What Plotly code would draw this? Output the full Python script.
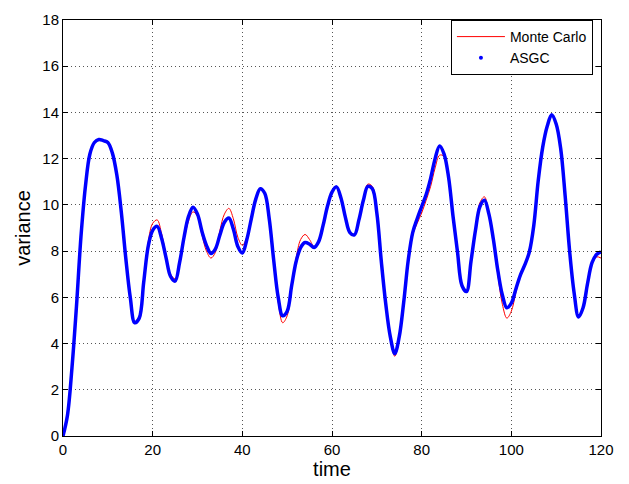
import plotly.graph_objects as go

# Sample times (one sample per time unit)
time = list(range(0, 121))

# Variance estimated with the adaptive sparse grid collocation method
asgc = [
    0.0, 0.9, 2.95, 5.6, 8.6, 10.8, 12.2, 12.7, 12.83, 12.78,
    12.7, 12.25, 11.3, 9.7, 7.7, 6.0, 4.9, 5.1, 6.65, 8.2,
    8.9, 9.07, 8.55, 7.7, 6.9, 6.7, 7.5, 8.6, 9.5, 9.9,
    9.6, 8.85, 8.25, 7.9, 8.1, 8.7, 9.25, 9.43, 8.95, 8.2,
    7.92, 8.5, 9.4, 10.25, 10.7, 10.5, 9.4, 7.6, 6.0, 5.2,
    5.4, 6.5, 7.55, 8.15, 8.37, 8.3, 8.16, 8.4, 9.1, 9.95,
    10.55, 10.78, 10.3, 9.45, 8.8, 8.7, 9.35, 10.2, 10.8, 10.7,
    9.65, 7.55, 5.7, 4.3, 3.56, 4.3, 5.8, 7.6, 8.8, 9.4,
    9.93, 10.45, 11.15, 12.0, 12.55, 12.2, 11.2, 9.5, 7.95, 6.5,
    6.25, 7.55, 8.9, 9.93, 10.2, 9.6, 8.5, 7.15, 6.1, 5.55,
    5.75, 6.35, 6.95, 7.4, 7.95, 9.1, 11.05, 12.5, 13.4, 13.9,
    13.5, 12.45, 10.4, 8.0, 6.2, 5.15, 5.55, 6.6, 7.5, 7.85,
    7.97,
]

# Reference variance from Monte Carlo sampling
monte_carlo = [
    0.0, 0.9, 2.95, 5.6, 8.6, 10.8, 12.2, 12.7, 12.83, 12.75,
    12.65, 12.15, 11.2, 9.7, 7.7, 6.0, 4.95, 5.2, 6.8, 8.4,
    9.2, 9.35, 8.75, 7.8, 7.0, 6.8, 7.5, 8.5, 9.3, 9.7,
    9.5, 8.7, 8.0, 7.7, 7.95, 8.9, 9.6, 9.85, 9.4, 8.6,
    8.25, 8.6, 9.4, 10.25, 10.7, 10.5, 9.4, 7.5, 5.8, 4.9,
    5.2, 6.5, 7.7, 8.5, 8.72, 8.5, 8.2, 8.4, 9.1, 9.95,
    10.55, 10.78, 10.3, 9.45, 8.8, 8.7, 9.35, 10.2, 10.9, 10.8,
    9.65, 7.55, 5.7, 4.2, 3.45, 4.2, 5.8, 7.6, 8.7, 9.2,
    9.65, 10.2, 10.8, 11.6, 12.15, 12.1, 11.1, 9.5, 7.95, 6.5,
    6.25, 7.55, 8.9, 10.1, 10.35, 9.6, 8.4, 6.95, 5.7, 5.1,
    5.4, 6.2, 6.95, 7.4, 7.95, 9.1, 11.05, 12.5, 13.4, 13.9,
    13.5, 12.45, 10.4, 8.0, 6.2, 5.15, 5.55, 6.6, 7.45, 7.75,
    7.7,
]

x_ticks = [0, 20, 40, 60, 80, 100, 120]
y_ticks = [0, 2, 4, 6, 8, 10, 12, 14, 16, 18]

FONT = "Liberation Sans, Arial, Helvetica, sans-serif"

fig = go.Figure()

fig.add_trace(go.Scatter(
    x=time, y=monte_carlo, mode="lines", name="Monte Carlo",
    line=dict(color="#ff0000", width=1, shape="spline"),
))

fig.add_trace(go.Scatter(
    x=time, y=asgc, mode="lines", name="ASGC", showlegend=False,
    line=dict(color="#0000ff", width=3.5, shape="spline"),
))

# legend entry for the ASGC series, drawn as a single dot
fig.add_trace(go.Scatter(
    x=[None], y=[None], mode="markers", name="ASGC",
    marker=dict(color="#0000ff", size=4),
))

axis_common = dict(
    showline=True, linecolor="black", linewidth=1, mirror="ticks",
    ticks="inside", ticklen=5, tickcolor="black", tickwidth=1,
    showgrid=True, gridcolor="#555555", griddash="1px,3px", gridwidth=1,
    zeroline=False, tickfont=dict(family=FONT, size=15, color="black"),
)

fig.update_xaxes(
    range=[0, 120], tickvals=x_ticks, ticktext=[str(v) for v in x_ticks],
    title=dict(text="time", font=dict(family=FONT, size=20, color="black"),
               standoff=0),
    **axis_common,
)
fig.update_yaxes(
    range=[0, 18], tickvals=y_ticks, ticktext=[str(v) for v in y_ticks],
    title=dict(text="variance", font=dict(family=FONT, size=20, color="black"),
               standoff=6),
    **axis_common,
)

fig.update_layout(
    width=629, height=484,
    margin=dict(l=63, r=28, t=11, b=48),
    paper_bgcolor="white", plot_bgcolor="white",
    font=dict(family=FONT, size=14, color="black"),
    legend=dict(
        x=0.985, y=1.0, xanchor="right", yanchor="top",
        bgcolor="white", bordercolor="black", borderwidth=1,
        font=dict(family=FONT, size=14, color="black"),
        tracegroupgap=0, itemwidth=48,
    ),
)

fig.write_html("out.html")
